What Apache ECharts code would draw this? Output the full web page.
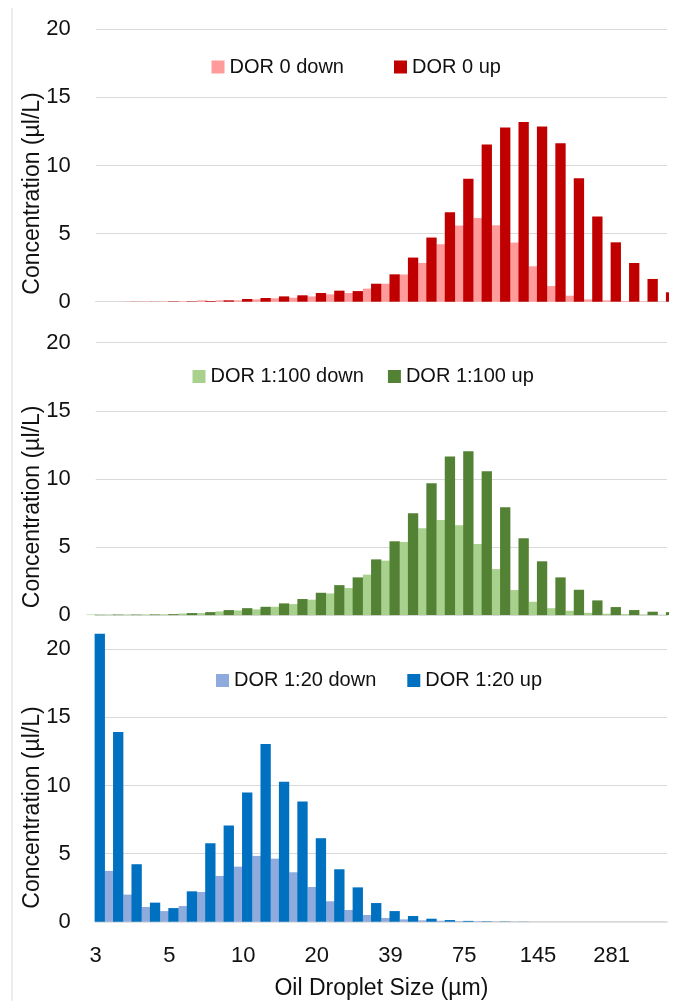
<!DOCTYPE html>
<html lang="en">
<head>
    <meta charset="UTF-8">
    <title>Oil Droplet Size Distributions</title>
    <script src="https://cdn.jsdelivr.net/npm/echarts@6/dist/echarts.min.js"></script>
    <style>
        html, body { margin: 0; padding: 0; background: #fff; }
        #main { width: 691px; height: 1001px; }
    </style>
</head>
<body>
    <div id="main"></div>
    <script>
        // size bins (µm), only every 4th one is labelled on the axis
        var sizeBins = ['3', '3.4', '4', '4.5', '5', '6', '7', '8.5', '10', '12', '14', '17',
            '20', '23', '28', '33', '39', '46', '54', '64', '75', '88', '104', '123',
            '145', '171', '201', '238', '281', '332', '392', '463'];

        // DOR 0
        var dor0Down = [0, 0, 0.02, 0.03, 0.03, 0.04, 0.1, 0.1, 0.1, 0.17, 0.25, 0.29, 0.39, 0.54, 0.64, 0.96,
            1.32, 2.0, 2.84, 4.22, 5.59, 6.15, 5.61, 4.34, 2.6, 1.15, 0.44, 0.17, 0.1, 0.05, 0.03, 0.02];
        var dor0Up = [0, 0, 0.01, 0.01, 0.03, 0.03, 0.05, 0.1, 0.2, 0.27, 0.39, 0.47, 0.64, 0.81, 0.78, 1.32,
            2.01, 3.24, 4.71, 6.57, 9.02, 11.54, 12.79, 13.19, 12.87, 11.64, 9.07, 6.25, 4.36, 2.84, 1.67, 0.69];

        // DOR 1:100
        var dor100Down = [0.04, 0.05, 0.05, 0.05, 0.06, 0.12, 0.15, 0.27, 0.34, 0.42, 0.61, 0.81, 1.13, 1.59, 1.99, 2.97,
            4.0, 5.37, 6.37, 6.99, 6.59, 5.22, 3.38, 1.84, 0.98, 0.51, 0.32, 0.17, 0.1, 0.07, 0.05, 0.03];
        var dor100Up = [0.03, 0.04, 0.04, 0.05, 0.07, 0.15, 0.22, 0.37, 0.51, 0.61, 0.86, 1.18, 1.64, 2.2, 2.77, 4.09,
            5.42, 7.48, 9.68, 11.64, 12.03, 10.56, 7.92, 5.64, 3.95, 2.77, 1.86, 1.08, 0.59, 0.37, 0.25, 0.22];

        // DOR 1:20
        var dor20Down = [0, 3.73, 1.99, 1.08, 0.78, 1.15, 2.18, 3.36, 4.04, 4.83, 4.63, 3.63, 2.55, 1.5, 0.86, 0.49,
            0.27, 0.17, 0.1, 0.07, 0.04, 0.03, 0.02, 0.01, 0, 0, 0, 0, 0, 0, 0, 0];
        var dor20Up = [21.15, 13.92, 4.22, 1.4, 1.0, 2.23, 5.76, 7.06, 9.49, 13.04, 10.27, 8.82, 6.13, 3.85, 2.52, 1.37,
            0.78, 0.42, 0.22, 0.12, 0.06, 0.03, 0.02, 0.01, 0, 0, 0, 0, 0, 0, 0, 0];

        var FONT = 'Liberation Sans';
        var GRID_LINE = '#d9d9d9';

        var panels = [
            { top: 29.3, down: dor0Down, up: dor0Up, names: ['DOR 0 down', 'DOR 0 up'],
              colors: ['#ff9b9b', '#c00000'], legendLeft: 206.5, legendTop: 52, gap: 50 },
            { top: 342.7, down: dor100Down, up: dor100Up, names: ['DOR 1:100 down', 'DOR 1:100 up'],
              colors: ['#a9d18e', '#548235'], legendLeft: 187.5, legendTop: 361.5, gap: 24 },
            { top: 649.3, down: dor20Down, up: dor20Up, names: ['DOR 1:20 down', 'DOR 1:20 up'],
              colors: ['#8faadc', '#0070c0'], legendLeft: 211, legendTop: 665.5, gap: 31 }
        ];

        var grid = [], xAxis = [], yAxis = [], series = [], legend = [];
        panels.forEach(function (p, i) {
            var last = i === panels.length - 1;
            grid.push({ left: 95.7, right: 24, top: p.top, height: 272.4 });
            xAxis.push({
                type: 'category',
                gridIndex: i,
                data: sizeBins,
                boundaryGap: false,
                axisTick: { show: false },
                axisLine: { show: true, lineStyle: { color: GRID_LINE, width: last ? 1.6 : 1.2 } },
                axisLabel: {
                    show: last,
                    interval: 3,
                    margin: 23,
                    color: '#111',
                    fontFamily: FONT,
                    fontSize: 22
                },
                name: last ? 'Oil Droplet Size (µm)' : '',
                nameLocation: 'middle',
                nameGap: 55,
                nameMoveOverlap: false,
                nameTextStyle: { color: '#111', fontFamily: FONT, fontSize: 23 }
            });
            yAxis.push({
                type: 'value',
                gridIndex: i,
                min: 0,
                max: 20,
                interval: 5,
                axisLine: { show: false },
                axisTick: { show: false },
                splitLine: { lineStyle: { color: GRID_LINE, width: 1.2 } },
                axisLabel: { margin: 25, color: '#111', fontFamily: FONT, fontSize: 22 },
                name: 'Concentration (µl/L)',
                nameLocation: 'middle',
                nameGap: 52,
                nameMoveOverlap: false,
                nameTextStyle: {
                    color: '#111', fontFamily: FONT, fontSize: 23,
                    padding: [0, last ? 44 : 56, 0, 0]
                }
            });
            series.push({
                name: p.names[0],
                type: 'bar',
                xAxisIndex: i,
                yAxisIndex: i,
                data: p.down,
                barWidth: '56%',
                itemStyle: { color: p.colors[0] }
            });
            series.push({
                name: p.names[1],
                type: 'bar',
                xAxisIndex: i,
                yAxisIndex: i,
                data: p.up,
                barWidth: '56%',
                barGap: '-21%',
                clip: !last,
                itemStyle: { color: p.colors[1] }
            });
            legend.push({
                data: p.names,
                left: p.legendLeft,
                top: p.legendTop,
                itemGap: p.gap,
                itemWidth: 13,
                itemHeight: 13,
                icon: 'rect',
                selectedMode: false,
                textStyle: { color: '#111', fontFamily: FONT, fontSize: 20 }
            });
        });

        var myChart = echarts.init(document.getElementById('main'));
        var option = {
            backgroundColor: '#fff',
            animation: false,
            textStyle: { fontFamily: FONT },
            graphic: [{
                type: 'line',
                shape: { x1: 12, y1: 8, x2: 12, y2: 1001 },
                style: { stroke: GRID_LINE, lineWidth: 1 }
            }, {
                // the plot area cuts the last bars off at its right edge
                type: 'rect',
                z: 100,
                shape: { x: 669, y: 20, width: 30, height: 600 },
                style: { fill: '#fff' }
            }],
            legend: legend,
            grid: grid,
            xAxis: xAxis,
            yAxis: yAxis,
            series: series
        };
        myChart.setOption(option);
    </script>
</body>
</html>
